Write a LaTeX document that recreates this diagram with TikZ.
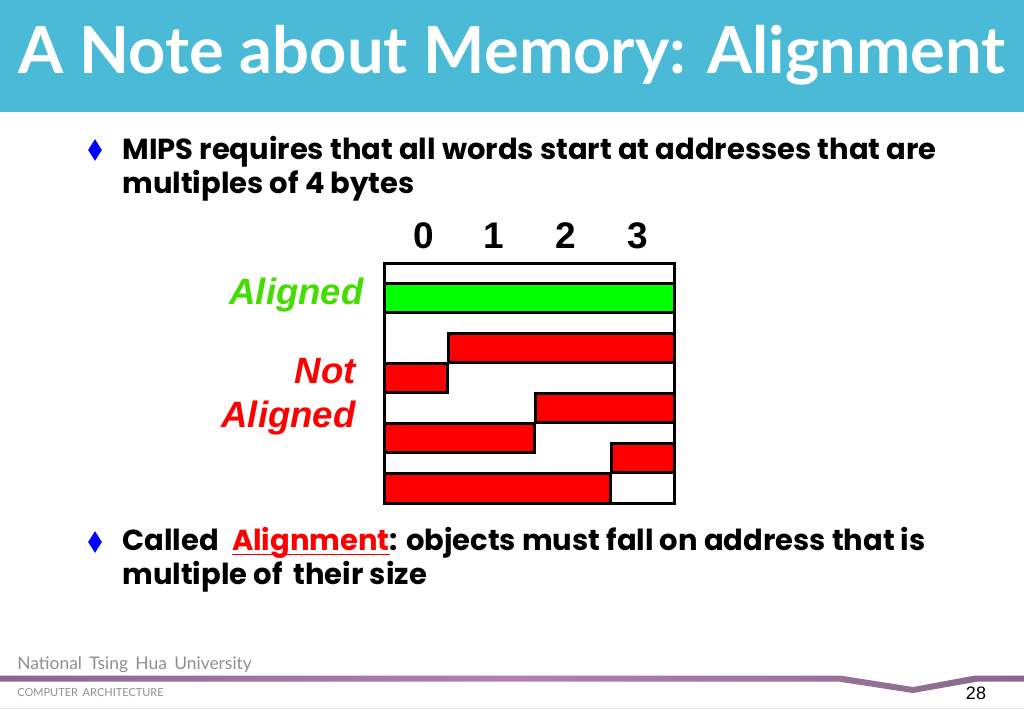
\documentclass[tikz,border=0pt]{standalone}
\usepackage{fontspec}
\setmainfont{Poppins}
\newfontfamily\labelfont{Liberation Sans}
\newfontfamily\footfont{Lato}
\definecolor{banner}{HTML}{4BBAD6}
\definecolor{barred}{HTML}{FF0000}
\definecolor{bargreen}{HTML}{00FF00}
\definecolor{labelgreen}{HTML}{44DD00}
\definecolor{footgray}{HTML}{8E8E8E}
\definecolor{bandedge}{HTML}{866A8A}
\definecolor{bandmid}{HTML}{B47FB0}
\newcommand{\redline}[1]{\textcolor{barred}{\setbox0\hbox{#1}\rlap{\rule[-2.2pt]{\wd0}{0.8pt}}\box0}}
\tikzset{
  bar/.style={draw=black,line width=1.5pt},
  bullet/.style={diamond,fill=blue,inner sep=0pt,minimum width=7pt,minimum height=11pt,aspect=0.6},
  bodytext/.style={anchor=west,align=left,inner sep=0pt,font=\fontsize{14.5}{17}\selectfont\bfseries},
  digit/.style={font=\fontsize{18.5}{20}\selectfont\labelfont\bfseries,inner sep=0pt},
  sidelabel/.style={anchor=east,align=right,inner sep=0pt,font=\fontsize{18.3}{22}\selectfont\labelfont\bfseries\itshape}
}
\usetikzlibrary{shapes.geometric}
\begin{document}
\begin{tikzpicture}[x=0.5pt,y=-0.5pt]
\useasboundingbox (0,0) rectangle (1024,709);
\fill[banner] (0,0) rectangle (1024,112);
\node[anchor=center,inner sep=0pt,text=white,font=\fontsize{32.5}{36}\selectfont\footfont\bfseries] (Title) at (512,55) {A Note about Memory: Alignment};
% first point
\node[bullet] (B0) at (95,150) {};
\node[bodytext] (T0) at (122,168.5) {MIPS requires that all words start at addresses that are\\multiples of 4 bytes};
% digits
\node[digit] (D0) at (424,236) {0};
\node[digit] (D1) at (494,236) {1};
\node[digit] (D2) at (566,236) {2};
\node[digit] (D3) at (638,236) {3};
% bars
\draw[bar,fill=white] (384,263) rectangle (674,503);
\draw[bar,fill=bargreen] (384,283) rectangle (674,312);
\draw[bar,fill=barred] (448,333) rectangle (674,362);
\draw[bar,fill=barred] (384,363) rectangle (447,392);
\draw[bar,fill=barred] (535,393) rectangle (674,422);
\draw[bar,fill=barred] (384,423) rectangle (534,452);
\draw[bar,fill=barred] (611,443) rectangle (674,472);
\draw[bar,fill=barred] (384,473) rectangle (610,503);
% labels
\node[sidelabel,text=labelgreen] (L0) at (364,295) {Aligned};
\node[sidelabel,text=barred] (L1) at (356,397) {Not\\Aligned};
% second point
\node[bullet] (B1) at (95,542) {};
\node[bodytext] (T1) at (122,560) {Called\hspace{3.5pt} \redline{Alignment}: objects must fall on address that is\\multiple of\, their size};
% footer
\shade[left color=bandedge,right color=bandedge,middle color=bandmid]
  (0,675.5) -- (840,675.5) -- (913,687) -- (975,675.5) -- (1024,675.5) -- (1024,681.5) -- (978,681.5) -- (913,693) -- (838,681.5) -- (0,681.5) -- cycle;
\node[anchor=west,inner sep=0pt,text=footgray,font=\fontsize{8.7}{10}\selectfont\footfont] (F0) at (17,665) {National\, Tsing\, Hua\, University};
\node[anchor=west,inner sep=0pt,text=footgray,font=\fontsize{5.5}{8}\selectfont\footfont] (F1) at (17,693) {COMPUTER\, ARCHITECTURE};
\node[inner sep=0pt,font=\fontsize{9}{10}\selectfont\labelfont] (P0) at (976,693) {28};
\fill[black!10] (0,707.5) rectangle (1024,709);
\end{tikzpicture}
\end{document}
